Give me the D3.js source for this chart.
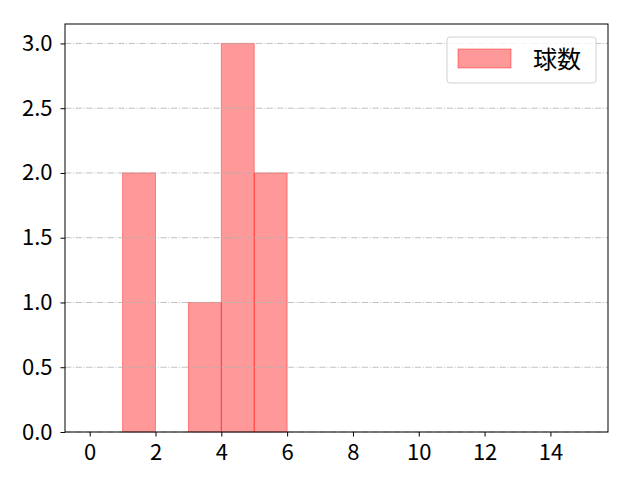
<!DOCTYPE html>
<html lang="ja">
<head>
<meta charset="UTF-8">
<title>球数</title>
<style>
  body { margin: 0; background: #fff; }
  text { font-family: "Noto Sans CJK JP", "DejaVu Sans", sans-serif; }
</style>
</head>
<body>
<script src="https://d3js.org/d3.v7.min.js"></script>
<div id="svg"></div>
<script>
// histogram bins (left edge, right edge) and counts
const binStart = [1, 3, 4, 5];
const binEnd = [2, 4, 5, 6];
const counts = [2, 1, 3, 2];
const xTicks = [0, 2, 4, 6, 8, 10, 12, 14];
const yTicks = [0, 0.5, 1.0, 1.5, 2.0, 2.5, 3.0];
const seriesName = "球数";

const width = 640, height = 480;
const margin = { top: 24, left: 65, right: 32, bottom: 48 };

const svg = d3.select("#svg").append("svg")
  .attr("width", width).attr("height", height);

const x = d3.scaleLinear().domain([-0.75, 15.75]).range([margin.left, width - margin.right]);
const y = d3.scaleLinear().domain([0, 3.15]).range([height - margin.bottom, margin.top]);

// bars
svg.append("g").selectAll("rect").data(counts).enter().append("rect")
  .attr("x", (d, i) => x(binStart[i]))
  .attr("width", (d, i) => x(binEnd[i]) - x(binStart[i]))
  .attr("y", d => y(d))
  .attr("height", d => y(0) - y(d))
  .attr("fill", "rgba(255,0,0,0.4)")
  .attr("stroke", "rgba(255,0,0,0.4)")
  .attr("stroke-width", 1);

// grid on top (dash-dot)
svg.append("g").selectAll("line").data(yTicks).enter().append("line")
  .attr("x1", margin.left).attr("x2", width - margin.right)
  .attr("y1", d => y(d)).attr("y2", d => y(d))
  .attr("stroke", "#b0b0b0").attr("stroke-width", 0.8)
  .attr("stroke-dasharray", "6.4,1.6,1,1.6");

// axes
const gx = svg.append("g").attr("transform", `translate(0,${height - margin.bottom})`)
  .call(d3.axisBottom(x).tickValues(xTicks).tickSize(4.5).tickPadding(8).tickFormat(d3.format("d")));
const gy = svg.append("g").attr("transform", `translate(${margin.left},0)`)
  .call(d3.axisLeft(y).tickValues(yTicks).tickSize(4.5).tickPadding(8).tickFormat(d3.format(".1f")));
[gx, gy].forEach(g => {
  g.select(".domain").remove();
  g.selectAll("text").style("font-size", "22px").attr("fill", "#000");
  g.selectAll("line").attr("stroke", "#000").attr("stroke-width", 1);
});

// frame
svg.append("rect")
  .attr("x", margin.left).attr("y", margin.top)
  .attr("width", width - margin.left - margin.right)
  .attr("height", height - margin.top - margin.bottom)
  .attr("fill", "none").attr("stroke", "#000").attr("stroke-width", 1);

// legend
const lg = svg.append("g").attr("transform", "translate(447,37)");
lg.append("rect").attr("width", 149).attr("height", 46).attr("rx", 3)
  .attr("fill", "rgba(255,255,255,0.8)").attr("stroke", "#d0d0d0");
lg.append("rect").attr("x", 11).attr("y", 12).attr("width", 53).attr("height", 19)
  .attr("fill", "rgba(255,0,0,0.4)").attr("stroke", "rgba(255,0,0,0.4)");
lg.append("text").attr("x", 86).attr("y", 31).style("font-size", "24px").text(seriesName);
</script>
</body>
</html>
